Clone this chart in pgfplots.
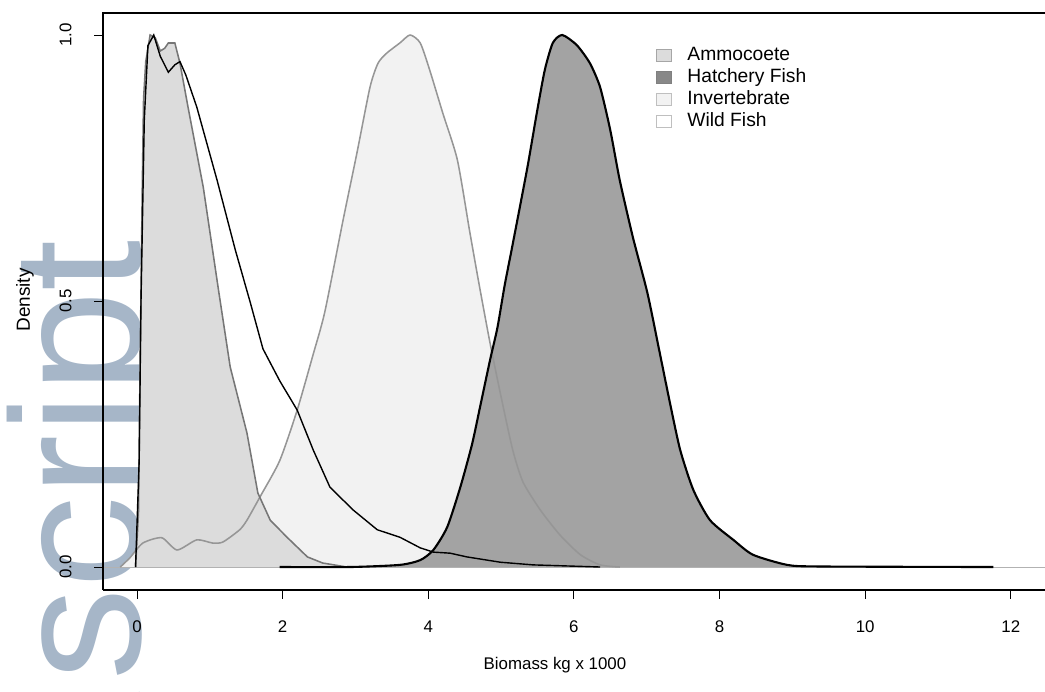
\documentclass[border=0pt]{standalone}
\usepackage{fontspec}
\setmainfont{Liberation Sans}
\usepackage{pgfplots}
\pgfplotsset{compat=1.18}
\definecolor{invfill}{RGB}{242,242,242}
\definecolor{ammfill}{RGB}{220,220,220}
\definecolor{hatfill}{RGB}{163,163,163}
\definecolor{hatleg}{RGB}{136,136,136}
\definecolor{ammline}{RGB}{118,118,118}
\definecolor{invline}{RGB}{150,150,150}
\definecolor{wmark}{RGB}{166,182,200}

\begin{document}
\begin{tikzpicture}
% watermark behind the plot
\node[rotate=90, anchor=base east, inner sep=0pt, text=wmark,
  font=\fontsize{131}{131}\selectfont] at (0.925cm,8.75cm) {Manuscript};
\begin{axis}[
  at={(0,0)}, anchor=south west, scale only axis,
  width=23.55cm, height=14.425cm,
  xmin=-0.467, xmax=12.47, ymin=-0.0432, ymax=1.0414,
  clip=false,
  axis line style={draw=none},
  tick align=outside, major tick length=0.22cm,
  tick style={black, line width=0.7pt},
  xtick pos=bottom, ytick pos=left,
  xtick={0,2,4,6,8,10,12}, xticklabels={0,2,4,6,8,10,12},
  ytick={0,0.5,1}, yticklabels={0.0,0.5,1.0},
  /pgf/number format/assume math mode=true,
  every tick label/.append style={font=\fontsize{12}{14}\selectfont},
  xticklabel shift=0.43cm,
  yticklabel style={rotate=90, anchor=south},
  yticklabel shift=0.44cm,
  xlabel={Biomass kg x 1000}, ylabel={Density},
  xlabel style={font=\fontsize{12}{14}\selectfont, at={(axis description cs:0.4798,-0.130)}, anchor=center},
  ylabel style={font=\fontsize{13.5}{15}\selectfont, at={(axis description cs:-0.0828,0.5026)}, anchor=center},
  legend image code/.code={\draw[#1] (0cm,-0.15cm) rectangle (0.37cm,0.15cm);},
  legend cell align=left,
  legend style={draw=none, fill=none, at={(rel axis cs:0.587,0.946)}, anchor=north west,
    font=\fontsize{13.7}{15}\selectfont, inner sep=0pt, row sep=0pt,
    nodes={inner sep=1.3pt, text height=10pt, text depth=3pt},
    /tikz/every odd column/.append style={column sep=0.35cm}},
]
% fills
\addplot[forget plot, draw=none, fill=invfill, smooth, tension=0.4] coordinates {
(-0.23,0) (-0.10,0.017) (0.08,0.045) (0.34,0.055) (0.55,0.032) (0.82,0.051)
(1.04,0.045) (1.18,0.047) (1.41,0.07) (1.51,0.088) (1.69,0.132) (1.96,0.20)
(2.20,0.295) (2.42,0.40) (2.58,0.48) (2.83,0.652) (3.02,0.778) (3.20,0.902)
(3.31,0.947) (3.43,0.966) (3.61,0.985) (3.75,1.0) (3.89,0.985) (4.02,0.934)
(4.20,0.853) (4.40,0.765) (4.57,0.63) (4.70,0.53) (4.85,0.42) (5.00,0.32)
(5.16,0.22) (5.30,0.16) (5.54,0.107) (5.81,0.06) (6.09,0.023) (6.36,0.004) (6.63,0)
} \closedcycle;
\addplot[forget plot, draw=none, fill=ammfill] coordinates {
(-0.02,0) (0.02,0.1) (0.04,0.35) (0.07,0.69) (0.09,0.88) (0.12,0.95) (0.18,1.0)
(0.25,0.995) (0.32,0.97) (0.38,0.975) (0.43,0.985) (0.52,0.985) (0.59,0.947)
(0.70,0.865) (0.91,0.714) (1.12,0.52) (1.28,0.376) (1.51,0.252) (1.66,0.139)
(1.83,0.088) (2.06,0.056) (2.34,0.019) (2.55,0.0075) (2.88,0)
} \closedcycle;
\addplot[forget plot, draw=none, fill=hatfill, smooth, tension=0.4] coordinates {
(1.96,0) (2.93,0) (3.61,0.004) (3.89,0.013) (4.07,0.032) (4.26,0.075) (4.44,0.15)
(4.60,0.23) (4.71,0.30) (4.85,0.39) (4.95,0.45) (5.05,0.53) (5.15,0.60) (5.36,0.75)
(5.49,0.853) (5.60,0.934) (5.71,0.985) (5.84,1.0) (6.04,0.981) (6.22,0.947)
(6.36,0.902) (6.50,0.821) (6.63,0.727) (6.81,0.62) (7.01,0.515) (7.18,0.402)
(7.32,0.308) (7.46,0.22) (7.64,0.145) (7.87,0.088) (8.19,0.051) (8.46,0.023)
(8.93,0.004) (9.38,0.001) (11.76,0)
} \closedcycle;
% zero line
\draw[gray!60, line width=0.6pt] (axis cs:-0.467,0) -- (axis cs:12.47,0);
% outlines
\addplot[forget plot, invline, line width=1.1pt, smooth, tension=0.4] coordinates {
(-0.23,0) (-0.10,0.017) (0.08,0.045) (0.34,0.055) (0.55,0.032) (0.82,0.051)
(1.04,0.045) (1.18,0.047) (1.41,0.07) (1.51,0.088) (1.69,0.132) (1.96,0.20)
(2.20,0.295) (2.42,0.40) (2.58,0.48) (2.83,0.652) (3.02,0.778) (3.20,0.902)
(3.31,0.947) (3.43,0.966) (3.61,0.985) (3.75,1.0) (3.89,0.985) (4.02,0.934)
(4.20,0.853) (4.40,0.765) (4.57,0.63) (4.70,0.53) (4.85,0.42) (5.00,0.32)
(5.16,0.22) (5.30,0.16) (5.54,0.107) (5.81,0.06) (6.09,0.023) (6.36,0.004) (6.63,0)
};
\addplot[forget plot, ammline, line width=1.1pt] coordinates {
(-0.02,0) (0.02,0.1) (0.04,0.35) (0.07,0.69) (0.09,0.88) (0.12,0.95) (0.18,1.0)
(0.25,0.995) (0.32,0.97) (0.38,0.975) (0.43,0.985) (0.52,0.985) (0.59,0.947)
(0.70,0.865) (0.91,0.714) (1.12,0.52) (1.28,0.376) (1.51,0.252) (1.66,0.139)
(1.83,0.088) (2.06,0.056) (2.34,0.019) (2.55,0.0075) (2.88,0)
};
\addplot[forget plot, black, line width=1pt] coordinates {
(-0.02,0) (0.03,0.2) (0.055,0.50) (0.10,0.84) (0.15,0.98) (0.23,1.0) (0.32,0.96)
(0.43,0.93) (0.52,0.944) (0.59,0.95) (0.67,0.925) (0.82,0.865) (1.10,0.727)
(1.35,0.596) (1.55,0.50) (1.73,0.41) (1.96,0.35) (2.20,0.295) (2.42,0.22)
(2.65,0.15) (2.97,0.107) (3.30,0.07) (3.61,0.056) (3.89,0.036) (4.07,0.028)
(4.30,0.026) (4.53,0.019) (4.99,0.009) (5.44,0.004) (6.36,0)
};
\addplot[forget plot, black, line width=1.5pt, smooth, tension=0.4] coordinates {
(1.96,0) (2.93,0) (3.61,0.004) (3.89,0.013) (4.07,0.032) (4.26,0.075) (4.44,0.15)
(4.60,0.23) (4.71,0.30) (4.85,0.39) (4.95,0.45) (5.05,0.53) (5.15,0.60) (5.36,0.75)
(5.49,0.853) (5.60,0.934) (5.71,0.985) (5.84,1.0) (6.04,0.981) (6.22,0.947)
(6.36,0.902) (6.50,0.821) (6.63,0.727) (6.81,0.62) (7.01,0.515) (7.18,0.402)
(7.32,0.308) (7.46,0.22) (7.64,0.145) (7.87,0.088) (8.19,0.051) (8.46,0.023)
(8.93,0.004) (9.38,0.001) (11.76,0)
};
% legend
\addlegendimage{fill=ammfill, draw=gray!70}
\addlegendentry{Ammocoete}
\addlegendimage{fill=hatleg, draw=gray}
\addlegendentry{Hatchery Fish}
\addlegendimage{fill=invfill, draw=gray!50}
\addlegendentry{Invertebrate}
\addlegendimage{fill=white, draw=gray!50}
\addlegendentry{Wild Fish}
% frame: left, top, bottom
\draw[black, line width=1pt] (rel axis cs:0,0) -- (rel axis cs:1,0);
\draw[black, line width=1pt] (rel axis cs:0,0) -- (rel axis cs:0,1) -- (rel axis cs:1,1);
\end{axis}
\pgfresetboundingbox
\useasboundingbox (-2.575cm,-2.55cm) rectangle (23.55cm,14.75cm);
\end{tikzpicture}
\end{document}
